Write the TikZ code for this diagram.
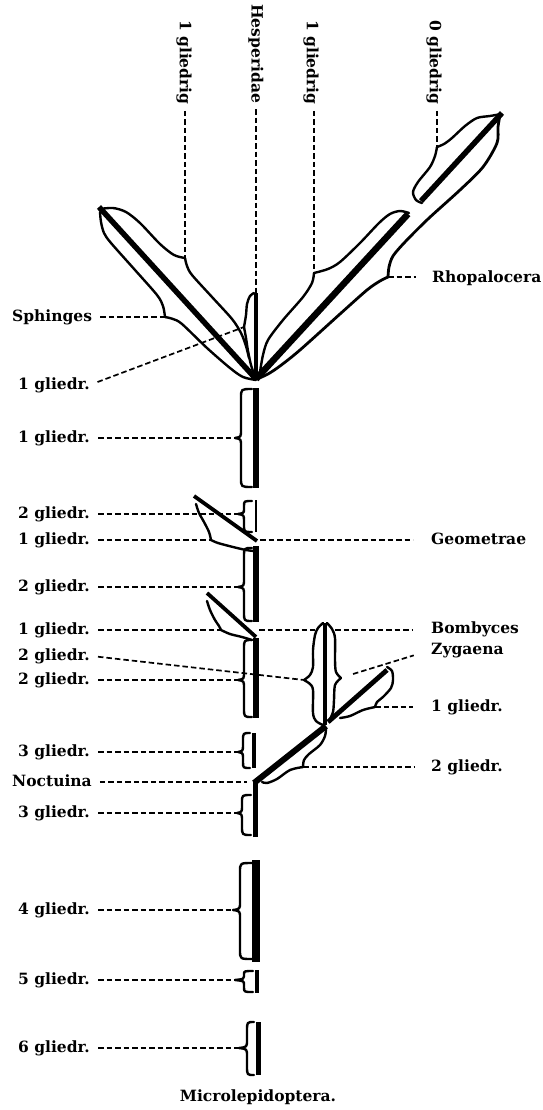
\documentclass[tikz,border=0pt]{standalone}
\usepackage{fontspec}
\setmainfont{DejaVu Serif}
\newcommand{\stembrace}[7]{%
  \coordinate (#7) at (#6,#3);
  \draw[sh] ({#5-4},#2) .. controls (#1,#2) .. ({#1},{#2+min(9,0.4*(#3-#2))})
    -- ({#1},{#3-min(8,0.4*(#3-#2))}) .. controls (#1,{#3-1}) .. (#7)
    .. controls (#1,{#3+1}) .. ({#1},{#3+min(8,0.4*(#4-#3))})
    -- ({#1},{#4-min(9,0.4*(#4-#3))}) .. controls (#1,#4) .. ({#5-4},#4);}
\begin{document}
\begin{tikzpicture}[x=1pt,y=-1pt,
  thk/.style={line width=#1},
  thk/.default=5.5pt,
  sh/.style={line width=2.4pt, line cap=round, line join=round},
  ptr/.style={line width=1.7pt, dash pattern=on 5.5pt off 3pt},
  lab/.style={font=\bfseries\fontsize{15.5}{18}\selectfont, inner sep=0pt},
  sm/.style={smooth, tension=0.5}]
\useasboundingbox (0,0) rectangle (542,1110);

% ---------------- key coordinates
\coordinate (V) at (256,379);
\coordinate (ct1) at (185,258);
\coordinate (cS) at (165,317);
\coordinate (ch) at (244,327);
\coordinate (ct3) at (314,273);
\coordinate (cR) at (388,277);
\coordinate (ct4) at (437,147);
\coordinate (cGe) at (211,540);
\coordinate (cBo) at (221,630);
\coordinate (cBm) at (304,680);
\coordinate (cbr) at (341,678);
\coordinate (cZ) at (375,707);
\coordinate (cN) at (303,767);

% ---------------- top fan
\draw[thk] (99,207) -- (V);
\draw[thk=4.5pt] (256,293) -- (V);
\draw[thk=6.5pt] (408,214) -- (V);
\draw[thk] (502,113) -- (421,201);

% left branch (Sphinges)
\draw[sh] plot[sm] coordinates {(100,209) (113,208) (126,212) (140,223) (160,244) (174,255) (ct1)};
\draw[sh] plot[sm] coordinates {(ct1) (187,266) (192,275) (212,297) (232,319) (241,333) (246,346) (249,358)};
\draw[sh] plot[sm] coordinates {(100,212) (101,222) (104,233) (111,243) (135,270) (157,295) (163,306) (cS)};
\draw[sh] plot[sm] coordinates {(cS) (173,319) (182,324) (207,348) (230,368) (243,377) (256,380)};
% Hesperidae sheath
\draw[sh] plot[sm] coordinates {(254,293) (250,296) (247,304) (246,315) (ch)};
\draw[sh] plot[sm] coordinates {(ch) (246,338) (248,351) (251,365) (255,377)};
% right inner branch
\draw[sh] plot[sm] coordinates {(409,213) (400,211) (390,214) (379,223) (360,243) (340,262) (328,269) (ct3)};
\draw[sh] plot[sm] coordinates {(ct3) (312,283) (303,297) (283,320) (268,340) (263,355) (260,372)};
% Rhopalocera outer line
\draw[sh, line width=2.8pt] plot[sm] coordinates {(500,115) (498,127) (497,143) (483,167) (460,190) (428,219) (405,242) (393,256) (389,267) (cR)};
\draw[sh, line width=2.8pt] plot[sm] coordinates {(cR) (380,281) (367,290) (340,314) (300,350) (280,366) (268,374) (257,379)};
% 0 gliedrig sheath
\draw[sh] plot[sm] coordinates {(501,114) (490,116) (477,118) (465,126) (452,138) (444,144) (ct4)};
\draw[sh] plot[sm] coordinates {(ct4) (435,156) (430,167) (418,182) (413,192) (416,200) (422,203)};

% ---------------- main stem segments
\draw[thk=6.5pt] (256,388) -- (256,488);
\stembrace{241}{389}{438}{487}{256}{235}{cA}
\draw[thk=2.8pt] (256,500) -- (256,532);
\stembrace{244}{501}{514}{532}{256}{238}{cB}
\draw[thk=6.5pt] (256,546) -- (256,622);
\stembrace{244}{548}{587}{621}{256}{238}{cC}
\draw[thk=6.5pt] (256,638) -- (256,718);
\stembrace{244}{640}{680}{717}{256}{238}{cD}
\draw[thk=3.2pt] (254,733) -- (254,768);
\stembrace{243}{733}{752}{768}{254}{238}{cE}
\draw[thk=5pt] (255,837) -- (255,782);
\stembrace{242}{795}{813}{835}{255}{237}{cF}
\draw[thk=8pt] (256,860) -- (256,962);
\stembrace{240}{863}{910}{959}{256}{233}{cG}
\draw[thk=3.2pt] (257,970) -- (257,993);
\stembrace{244}{971}{980}{992}{257}{235}{cH}
\draw[thk=5pt] (258,1022) -- (258,1075);
\stembrace{247}{1022}{1048}{1075}{258}{239}{cI}

% Geometrae side branch
\draw[thk=3.8pt] (194,496) -- (257,541);
\draw[sh] plot[sm] coordinates {(196,504) (199,513) (204,522) (209,532) (cGe)};
\draw[sh] plot[sm] coordinates {(cGe) (218,543) (233,547) (246,550) (254,551)};
% second side branch
\draw[thk=3.8pt] (207,593) -- (256,637);
\draw[sh] plot[sm] coordinates {(207,601) (210,610) (215,620) (219,626) (cBo)};
\draw[sh] plot[sm] coordinates {(cBo) (230,634) (242,637) (252,640)};

% Bombyces
\draw[thk=4.8pt] (325,623) -- (325,725);
\draw[sh] plot[sm] coordinates {(323,623) (318,628) (315,635) (313,650) (313,667) (310,675) (cBm)};
\draw[sh] plot[sm] coordinates {(cBm) (310,684) (313,690) (313,713) (316,721) (323,725)};
\draw[sh] plot[sm] coordinates {(327,623) (332,629) (335,638) (335,660) (336,672) (cbr)};
\draw[sh] plot[sm] coordinates {(cbr) (335,685) (334,700) (333,712) (329,721)};
% Zygaena
\draw[thk=4.8pt] (328,722) -- (387,670);
\draw[sh] plot[sm] coordinates {(387,667) (392,671) (393,680) (391,688) (383,697) (377,702) (cZ)};
\draw[sh] plot[sm] coordinates {(cZ) (363,710) (350,716) (340,718)};
% Noctuina diagonal
\draw[thk=6pt] (254,783) -- (326,726);
\draw[sh] plot[sm] coordinates {(326,728) (325,736) (320,745) (309,754) (304,760) (cN)};
\draw[sh] plot[sm] coordinates {(cN) (290,770) (277,779) (267,783) (262,782)};

% ---------------- labels
\node[lab, rotate=-90, anchor=west] (t1) at (184,20) {1 gliedrig};
\node[lab, rotate=-90, anchor=west] (t2) at (256,4) {Hesperidae};
\node[lab, rotate=-90, anchor=west] (t3) at (311,20) {1 gliedrig};
\node[lab, rotate=-90, anchor=west] (t4) at (434,20) {0 gliedrig};

\node[lab, anchor=base west] (rho) at (432,282) {Rhopalocera};
\node[lab, anchor=base west] (geo) at (431,544) {Geometrae};
\node[lab, anchor=base west] (bom) at (431,633) {Bombyces};
\node[lab, anchor=base west] (zyg) at (431,654) {Zygaena};
\node[lab, anchor=base west] (r1) at (431,711) {1 gliedr.};
\node[lab, anchor=base west] (r2) at (431,771) {2 gliedr.};

\node[lab, anchor=base west] (ls) at (12,321) {Sphinges};
\node[lab, anchor=base west] (l1) at (18,389) {1 gliedr.};
\node[lab, anchor=base west] (l2) at (18,442) {1 gliedr.};
\node[lab, anchor=base west] (l3) at (18,518) {2 gliedr.};
\node[lab, anchor=base west] (l4) at (18,544) {1 gliedr.};
\node[lab, anchor=base west] (l5) at (18,591) {2 gliedr.};
\node[lab, anchor=base west] (l6) at (18,634) {1 gliedr.};
\node[lab, anchor=base west] (l7) at (18,660) {2 gliedr.};
\node[lab, anchor=base west] (l8) at (18,684) {2 gliedr.};
\node[lab, anchor=base west] (l9) at (18,756) {3 gliedr.};
\node[lab, anchor=base west] (ln) at (12,786) {Noctuina};
\node[lab, anchor=base west] (l10) at (18,817) {3 gliedr.};
\node[lab, anchor=base west] (l11) at (18,914) {4 gliedr.};
\node[lab, anchor=base west] (l12) at (18,984) {5 gliedr.};
\node[lab, anchor=base west] (l13) at (18,1052) {6 gliedr.};
\node[lab] (mic) at (258,1097) {Microlepidoptera.};

% ---------------- connectors
\draw[ptr, shorten <=6pt] (ct1 |- t1.east) -- (ct1);
\draw[ptr, shorten <=6pt] (V |- t2.east) -- (256,293);
\draw[ptr, shorten <=6pt] (ct3 |- t3.east) -- (ct3);
\draw[ptr, shorten <=6pt] (ct4 |- t4.east) -- (ct4);

\draw[ptr, shorten >=16pt] (cR) -- (rho.west |- cR);
\coordinate (gj) at (260,540);
\draw[ptr, shorten >=18pt] (gj) -- (geo.west |- gj);
\coordinate (bj) at (259,630);
\coordinate (bl) at (315,630);
\coordinate (br) at (335,630);
\draw[ptr] (bj) -- (bl);
\draw[ptr, shorten >=18pt] (br) -- (bom.west |- br);
\coordinate (zc) at (353,674);
\draw[ptr, shorten >=18pt] (zc) -- (zyg.west);
\draw[ptr, shorten >=18pt] (cZ) -- (r1.west |- cZ);
\draw[ptr, shorten >=16pt] (cN) -- (r2.west |- cN);

\draw[ptr, shorten <=8pt] (ls.east |- cS) -- (cS);
\draw[ptr, shorten <=8pt] (l1.east) -- (ch);
\draw[ptr, shorten <=8pt] (l2.east |- cA) -- (cA);
\draw[ptr, shorten <=8pt] (l3.east |- cB) -- (cB);
\draw[ptr, shorten <=8pt] (l4.east |- cGe) -- (cGe);
\draw[ptr, shorten <=8pt] (l5.east |- cC) -- (cC);
\draw[ptr, shorten <=8pt] (l6.east |- cBo) -- (cBo);
\draw[ptr, shorten <=8pt] (l7.east) -- (cBm);
\draw[ptr, shorten <=8pt] (l8.east |- cD) -- (cD);
\draw[ptr, shorten <=8pt] (l9.east |- cE) -- (cE);
\coordinate (nj) at (247,782);
\draw[ptr, shorten <=8pt] (ln.east |- nj) -- (nj);
\draw[ptr, shorten <=8pt] (l10.east |- cF) -- (cF);
\draw[ptr, shorten <=8pt] (l11.east |- cG) -- (cG);
\draw[ptr, shorten <=8pt] (l12.east |- cH) -- (cH);
\draw[ptr, shorten <=8pt] (l13.east |- cI) -- (cI);
\end{tikzpicture}
\end{document}
